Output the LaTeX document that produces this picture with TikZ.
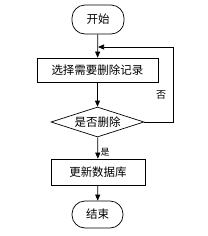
\documentclass[tikz,border=0pt]{standalone}
\usepackage{fontspec}
\setmainfont{Noto Sans CJK SC}
\usetikzlibrary{shapes.geometric,arrows.meta}

\begin{document}
\begin{tikzpicture}[
    x=1pt, y=-1pt,
    font=\fontsize{11.5}{13}\selectfont,
    line width=0.7pt,
    term/.style={
        draw,
        rounded corners=13pt,
        inner sep=2pt
    },
    proc/.style={
        draw,
        inner sep=2pt
    },
    decide/.style={
        draw,
        diamond,
        aspect=3.1,
        inner sep=0pt,
        minimum width=93pt,
        minimum height=30pt
    },
    flow/.style={-{Triangle[length=6pt,width=5pt]}}
]

\useasboundingbox (0,0) rectangle (208,236);

% Steps
\node[term, minimum width=52pt, minimum height=29pt] (start) at (98,19.5) {开始};
\node[proc, minimum width=121pt, minimum height=24pt] (choose) at (97.5,70) {选择需要删除记录};
\node[decide] (ask) at (97.5,122) {是否删除};
\node[proc, minimum width=94pt, minimum height=26pt] (update) at (98,172) {更新数据库};
\node[term, minimum width=51pt, minimum height=27pt] (stop) at (97.5,214.5) {结束};

% Loop corner
\coordinate (back) at (173,47);

% Connectors
\draw[flow] (start) -- (choose);
\draw[flow] (choose) -- (ask);
\draw[flow] (ask) -- (update);
\draw[flow] (update) -- (stop);
\draw[flow] (ask.east) -| (back) -- (start.south |- back);

% Branch labels
\node[font=\fontsize{10}{11}\selectfont] (no) at (161,95) {否};
\node[font=\fontsize{9}{10}\selectfont] (yes) at (105,152) {是};

\end{tikzpicture}
\end{document}
